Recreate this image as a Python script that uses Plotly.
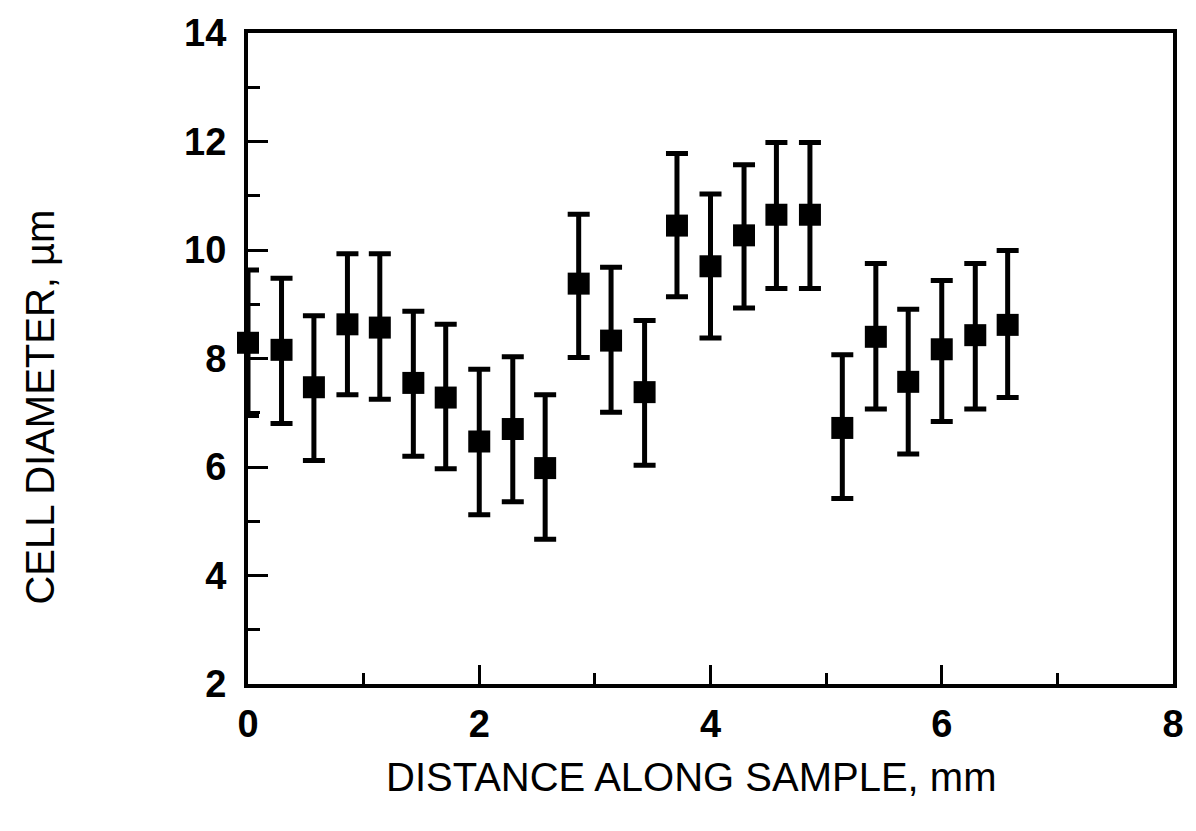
import plotly.graph_objects as go

# Data
distance_mm = [0.0, 0.29, 0.57, 0.86, 1.14, 1.43, 1.71, 2.0, 2.29, 2.57, 2.86, 3.14,
               3.43, 3.71, 4.0, 4.29, 4.57, 4.86, 5.14, 5.43, 5.71, 6.0, 6.29, 6.57]
cell_diameter = [8.29, 8.16, 7.47, 8.63, 8.57, 7.55, 7.28, 6.47, 6.70, 5.98, 9.38, 8.33,
                 7.38, 10.45, 9.70, 10.27, 10.65, 10.65, 6.72, 8.40, 7.57, 8.17, 8.43, 8.62]
upper = [9.63, 9.48, 8.79, 9.93, 9.93, 8.87, 8.63, 7.80, 8.03, 7.33, 10.66, 9.68,
         8.70, 11.78, 11.03, 11.57, 11.98, 11.98, 8.07, 9.75, 8.91, 9.44, 9.75, 9.99]
lower = [6.95, 6.80, 6.12, 7.33, 7.25, 6.20, 5.97, 5.12, 5.36, 4.67, 8.02, 7.01,
         6.03, 9.14, 8.38, 8.93, 9.29, 9.29, 5.42, 7.07, 6.24, 6.84, 7.07, 7.28]

x_ticks = [0, 2, 4, 6, 8]
y_ticks = [2, 4, 6, 8, 10, 12, 14]
x_title = "DISTANCE ALONG SAMPLE, mm"
y_title = "CELL DIAMETER, µm"

err_plus = [u - c for u, c in zip(upper, cell_diameter)]
err_minus = [c - l for c, l in zip(cell_diameter, lower)]

fig = go.Figure()
fig.add_trace(go.Scatter(
    x=distance_mm, y=cell_diameter, mode="markers",
    marker=dict(symbol="square", size=22, color="black", line=dict(width=0)),
    error_y=dict(type="data", symmetric=False, array=err_plus, arrayminus=err_minus,
                 color="black", thickness=5, width=11),
    showlegend=False, cliponaxis=False,
))

font_family = "Liberation Sans, Arial, Helvetica, sans-serif"

fig.update_layout(
    width=1196, height=831,
    margin=dict(l=248, r=15, t=22, b=147),
    paper_bgcolor="white", plot_bgcolor="white",
    font=dict(family=font_family, color="black"),
    xaxis=dict(
        range=[0, 8], tickvals=x_ticks, ticktext=[str(v) for v in x_ticks],
        showgrid=False, zeroline=False,
        showline=True, linecolor="black", linewidth=4, mirror=True,
        ticks="inside", ticklen=19, tickwidth=3, tickcolor="black",
        minor=dict(dtick=1, ticks="inside", ticklen=11, tickwidth=3, tickcolor="black"),
        tickfont=dict(size=38, family=font_family, weight="bold"),
        ticklabelstandoff=3,
    ),
    yaxis=dict(
        range=[2, 14], tickvals=y_ticks, ticktext=[str(v) for v in y_ticks],
        showgrid=False, zeroline=False,
        showline=True, linecolor="black", linewidth=4, mirror=True,
        ticks="inside", ticklen=20, tickwidth=3, tickcolor="black",
        minor=dict(dtick=1, ticks="inside", ticklen=12, tickwidth=3, tickcolor="black"),
        tickfont=dict(size=38, family=font_family, weight="bold"),
        ticklabelstandoff=10,
    ),
    annotations=[
        dict(text=x_title, xref="paper", yref="paper", x=0.479, y=-0.1425,
             xanchor="center", yanchor="middle", showarrow=False,
             font=dict(size=40, family=font_family)),
        dict(text=y_title, xref="paper", yref="paper", x=-0.225, y=0.426,
             xanchor="center", yanchor="middle", showarrow=False, textangle=-90,
             font=dict(size=40, family=font_family)),
    ],
)

fig.write_html("out.html")
